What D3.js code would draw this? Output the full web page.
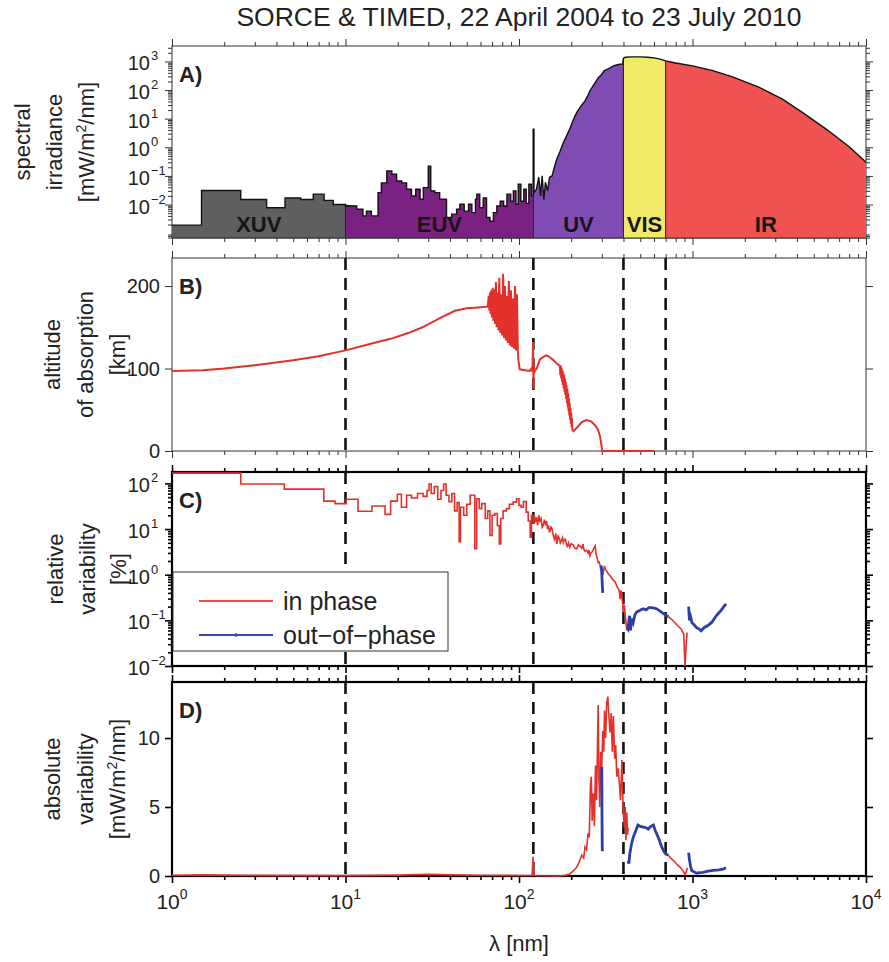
<!DOCTYPE html>
<html>
<head>
<meta charset="utf-8">
<script src="https://cdn.jsdelivr.net/npm/d3@7"></script>
<style>
  body { margin: 0; background: #fff; }
  svg { display: block; font-family: "Liberation Sans", Arial, Helvetica, sans-serif; }
</style>
</head>
<body>
<div id="chart"></div>
<script>
// ---------- wavelength bands ----------
const bandEdges = [1, 10, 121, 400, 700, 10000];
const bandNames = ["XUV", "EUV", "UV", "VIS", "IR"];
const bandColors = ["#5f5f5f", "#7b2181", "#7e4cb3", "#f1ea66", "#ef5250"];
const dashedLambda = [10, 121, 400, 700];

// ---------- A) spectral irradiance [mW/m2/nm] ----------
// binned XUV / EUV part (bin start wavelength, value)
const binLambda = [1.0, 1.48, 2.49, 3.51, 4.48, 5.52, 6.52, 7.53, 8.5, 10.0,
  11.6, 12.6, 13.2, 14.1, 15.4, 16.1, 17.3, 18.5, 19.7, 21.1,
  22.5, 24.0, 25.4, 26.9, 28.1, 30.0, 31.0, 32.7, 34.9, 38.2,
  40.9, 43.7, 45.6, 48.3, 51.2, 53.5, 56.1, 57.1, 59.4, 62.2,
  65.0, 68.0, 71.2, 74.5, 77.9, 81.5, 85.2, 89.6, 92.8, 96.0,
  99.0, 102.5, 106.6, 110.0, 114.0, 118.0, 120.8];
const binIrradiance = [0.0019, 0.031, 0.015, 0.0077, 0.017, 0.015, 0.023, 0.014, 0.010, 0.0089,
  0.0068, 0.004, 0.0059, 0.004, 0.026, 0.057, 0.148, 0.114, 0.066, 0.057,
  0.034, 0.020, 0.034, 0.0152, 0.039, 0.22, 0.030, 0.026, 0.0152, 0.0035,
  0.0046, 0.0068, 0.0102, 0.0059, 0.0102, 0.0052, 0.0152, 0.023, 0.0077, 0.017,
  0.0035, 0.0026, 0.0052, 0.0089, 0.013, 0.0089, 0.023, 0.013, 0.030, 0.0102,
  0.051, 0.013, 0.034, 0.011, 0.051, 0.02, 4.3];
// UV to IR part
const specLambda = [122, 126, 130, 133, 136, 139, 142, 146, 150, 155,
  160, 165, 172, 180, 188, 196, 203, 210, 217, 224,
  232, 240, 248, 256, 265, 275, 285, 300, 310, 320,
  335, 350, 365, 380, 393, 396, 400, 410, 450, 500,
  550, 600, 650, 700, 800, 1000, 1310, 1700, 2410, 3300,
  4400, 6000, 8000, 10000];
const specIrradiance = [0.026, 0.034, 0.09, 0.02, 0.1, 0.015, 0.06, 0.03, 0.09, 0.1,
  0.2, 0.38, 0.7, 1.45, 2.5, 4.3, 7.5, 12.3, 18, 24,
  32, 42, 60, 93, 130, 180, 260, 357, 480, 520,
  600, 700, 750, 800, 820, 800, 1300, 1400, 1440, 1440,
  1400, 1330, 1200, 1050, 880, 700, 480, 290, 126, 48,
  15, 4.0, 1.05, 0.30];

// ---------- B) altitude of absorption [km] ----------
const altLambda = [1, 1.5, 2, 3, 5, 7, 10, 14, 18.2, 23, 27.8, 35, 42.7, 50, 58, 66,
  67, 67.5, 68, 68.6, 69.2, 69.8, 70.5, 71.2, 72, 72.8, 73.6, 74.4, 75.3, 76.2, 77, 78, 79,
  80, 81, 82, 83, 84, 85, 86.2, 87.4, 88.6, 89.8, 91, 92.2, 93.5, 94.8, 96, 97.3, 98.5,
  99.5, 101, 108, 115, 118, 119.5, 120.5, 121.2, 121.8, 122.5, 124, 126, 132, 138, 144, 150, 158, 165,
  172, 173, 174, 175, 176, 177, 178, 179, 180, 181, 182, 183, 184, 185, 186, 187,
  188, 189, 190, 191, 192, 193, 194, 195, 196, 197, 198, 199, 200, 201, 202, 203, 206,
  215, 230, 245, 260, 275, 285, 293, 298, 302, 400, 600];
const altKm = [97, 98, 100, 104, 110, 115, 122, 130, 136, 143, 150, 161, 170, 173, 174, 175,
  188, 170, 192, 166, 195, 162, 198, 158, 196, 154, 205, 150, 192, 146, 210, 143, 190,
  140, 215, 137, 200, 134, 188, 131, 206, 128, 195, 126, 185, 124, 200, 122, 190, 120,
  108, 99, 98, 97, 100, 96, 132, 75, 105, 95, 99, 99, 111, 114, 116, 114, 110, 106,
  103, 92, 104, 88, 101, 84, 98, 80, 95, 76, 92, 72, 88, 68, 84, 63,
  80, 58, 75, 53, 70, 48, 64, 43, 58, 38, 52, 33, 46, 29, 40, 26, 24,
  28, 35, 37.6, 36, 31, 26, 18, 8, 0, 0, 0];

// ---------- C) relative variability [%] ----------
const relBinLambda = [1, 2.49, 4.44, 7.5, 8.7, 10.1, 11.8, 14.2, 16.9, 18.2,
  19.9, 21, 22.5, 24, 26, 28, 29.5, 30.3, 31.2, 32.5,
  34, 35.5, 36.8, 38, 39.5, 41, 42.5, 44, 45.2, 46,
  48, 50, 52.3, 55.6, 57, 59, 61, 63.9, 66, 68,
  70, 72.6, 75, 77, 78.5, 81, 84.5, 88, 92.5, 96.8,
  100, 103, 106, 110, 113, 116, 118];
const relBinValue = [168, 97, 75, 41, 36, 45, 24.5, 32, 21, 41,
  58, 30, 55, 48, 60, 52, 70, 97, 60, 85,
  45, 70, 97, 55, 40, 60, 25, 38, 5.3, 30,
  20, 35, 55, 3.7, 46, 28, 36, 17, 25, 7.2,
  20, 22, 12, 4.7, 17, 25, 28, 35, 39, 46,
  33, 30, 40, 23.5, 15, 6.6, 20];
const relInLambda = [121, 122.5, 124, 126, 128, 130, 132, 134, 136, 138,
  140, 142, 144, 146, 148, 150, 153, 155, 158, 160,
  163, 165, 168, 170, 173, 175, 178, 180, 183, 185,
  188, 190, 193, 196, 200, 205, 210, 215, 220, 225,
  230, 234, 237, 240, 245, 250, 253, 256, 260, 265,
  270, 275, 278, 280, 283, 286, 290, 293, 296, 300,
  303, 305, 308, 311, 315, 320, 327, 335, 342, 350,
  358, 366, 372, 378, 383, 387, 390, 395, 399, 403,
  406, 410, 413, 418, 420, 725, 755, 790, 820, 860,
  890, 905, 920, 931];
const relInValue = [13, 20, 14, 18, 12, 20, 15, 17, 11, 12,
  16, 13, 15, 10, 12, 8.5, 11, 10, 7, 6,
  8, 4.7, 7, 6.5, 5, 5.5, 6.5, 5.1, 6, 6,
  4.5, 4.2, 5, 4.0, 4.8, 4.5, 3.8, 3.7, 4.5, 4.2,
  3.8, 4.7, 3.5, 3.3, 3.4, 3, 3.5, 2.6, 3.0, 3.2,
  3.8, 4.3, 2.8, 2.5, 2.2, 1.86, 1.9, 1.6, 1.3, 1.33,
  1.1, 1.0, 1.3, 1.55, 1.3, 1.2, 1.05, 0.95, 0.85, 0.75,
  0.7, 0.57, 0.5, 0.45, 0.29, 0.45, 0.4, 0.25, 0.15, 0.22,
  0.2, 0.12, 0.098, 0.06, null, 0.12, 0.107, 0.09, 0.076, 0.065,
  0.05, 0.01, 0.03, 0.054];
const relOutLambda = [298, 300, 302, 304, 306, 418, 420, 425, 430, 434,
  440, 445, 455, 465, 475, 490, 505, 520, 540, 560,
  580, 600, 620, 650, 680, 725, 930, 950, 960, 975,
  993, 1020, 1055, 1090, 1120, 1170, 1220, 1290, 1370, 1450,
  1500, 1560];
const relOutValue = [1.6, 1.1, 0.6, 0.4, null, null, 0.07, 0.065, 0.1, 0.126,
  0.06, 0.11, 0.089, 0.13, 0.15, 0.16, 0.17, 0.18, 0.17, 0.19,
  0.19, 0.185, 0.18, 0.16, 0.14, 0.12, null, 0.2, 0.1, 0.12,
  0.089, 0.08, 0.069, 0.065, 0.059, 0.07, 0.076, 0.09, 0.126, 0.16,
  0.19, 0.23];

// ---------- D) absolute variability [mW/m2/nm] ----------
const absInLambda = [1, 1.5, 2.5, 10, 20, 30, 40, 60, 100, 119,
  120.5, 121.8, 130, 171, 185, 196, 205, 215, 222, 230,
  236, 240, 245, 250, 254, 258, 261, 264, 268, 272,
  276, 280, 286, 289, 292, 296, 300, 304, 308, 311,
  316, 320, 325, 330, 335, 340, 345, 350, 356, 361,
  366, 372, 379, 385, 392, 396, 399, 405, 410, 413,
  418, 422, 426, 428, 725, 750, 780, 820, 850, 880,
  905, 920, 935];
const absInValue = [0.05, 0.08, 0.05, 0.03, 0.06, 0.12, 0.08, 0.05, 0.04, 0.04,
  1.4, 0.05, 0.02, 0, 0.05, 0.15, 0.35, 0.63, 1.0, 1.5,
  1.3, 2.1, 1.9, 3.1, 2.8, 6.5, 7.2, 4.0, 6.0, 3.6,
  8.0, 5.5, 12.4, 7.0, 5.0, 9.0, 7.9, 10.5, 9.0, 12.0,
  10.0, 12.5, 13.0, 11.5, 10.4, 11.8, 9.0, 11.6, 8.5, 9.5,
  7.2, 7.8, 6.7, 5.5, 8.4, 6.0, 4.5, 3.5, 5.0, 2.6,
  4.6, 3.0, 3.5, null, 1.5, 1.3, 1.1, 0.8, 0.63, 0.4,
  0.1, 0.3, 0.6];
const absOutLambda = [300, 301, 302, 303, 425, 430, 435, 445, 455, 465,
  475, 485, 500, 520, 540, 555, 575, 595, 610, 635,
  660, 680, 700, 725, 940, 950, 960, 975, 990, 1020,
  1055, 1100, 1150, 1230, 1320, 1420, 1500, 1560];
const absOutValue = [7.9, 4.0, 1.8, null, 1.1, 0.9, 1.6, 2.3, 2.8, 3.1,
  3.4, 3.7, 3.6, 3.55, 3.5, 3.4, 3.6, 3.7, 3.3, 2.8,
  2.2, 1.85, 1.6, 1.5, null, 1.7, 1.2, 0.7, 0.4, 0.3,
  0.2, 0.25, 0.27, 0.35, 0.4, 0.45, 0.5, 0.6];

// ---------- ticks ----------
const xTickExp = [0, 1, 2, 3, 4];
const aTickExp = [-2, -1, 0, 1, 2, 3];
const bTicks = [0, 100, 200];
const cTickExp = [-2, -1, 0, 1, 2];
const dTicks = [0, 5, 10];

// ---------- layout ----------
const width = 889, height = 962;
const plotLeft = 172, plotRight = 866;
const panels = {
  A: { top: 46, bottom: 238, frame: 1, color: "#333" },
  B: { top: 258, bottom: 451, frame: 1, color: "#333" },
  C: { top: 472, bottom: 666, frame: 2.2, color: "#000" },
  D: { top: 682, bottom: 876, frame: 2.2, color: "#000" }
};
const RED = "#e4302a", BLUE = "#2f3ea6";
const LABEL_SIZE = 22;

const svg = d3.select("#chart").append("svg")
  .attr("width", width).attr("height", height);

const x = d3.scaleLog().domain([1, 1e4]).range([plotLeft, plotRight]);
const yA = d3.scaleLog().domain([Math.pow(10, -3.17), Math.pow(10, 3.54)]).range([panels.A.bottom, panels.A.top]);
const yB = d3.scaleLinear().domain([0, 234]).range([panels.B.bottom, panels.B.top]);
const yC = d3.scaleLog().domain([0.01, Math.pow(10, 2.25)]).range([panels.C.bottom, panels.C.top]);
const yD = d3.scaleLinear().domain([0, 14.06]).range([panels.D.bottom, panels.D.top]);

const zip = (a, b) => a.map((v, i) => [v, b[i]]);

function stepPoints(lams, vals, end) {
  const pts = [];
  lams.forEach((l, i) => {
    const e = i < lams.length - 1 ? lams[i + 1] : end;
    pts.push([l, vals[i]], [e, vals[i]]);
  });
  return pts;
}

function logMinors(lo, hi) {
  const out = [];
  for (let e = Math.floor(Math.log10(lo)); e <= Math.ceil(Math.log10(hi)); e++) {
    for (let k = 2; k <= 9; k++) {
      const v = k * Math.pow(10, e);
      if (v >= lo && v <= hi) out.push(v);
    }
  }
  return out;
}

// clip path per panel
Object.entries(panels).forEach(([k, p]) => {
  svg.append("clipPath").attr("id", "clip" + k)
    .append("rect")
    .attr("x", plotLeft).attr("y", p.top - 2)
    .attr("width", plotRight - plotLeft).attr("height", p.bottom - p.top + 4);
});

// ---------- axes / frames ----------
const xMajors = xTickExp.map(e => Math.pow(10, e));
const xMinors = logMinors(1, 1e4);

function styleAxis(g, p) {
  g.select(".domain").remove();
  g.selectAll("line").attr("stroke", p.color).attr("stroke-width", p.frame > 1 ? 1.6 : 1);
}

function drawAxes(key, y, yMajors, yMinors) {
  const p = panels[key];
  const g = svg.append("g").attr("class", "axes-" + key);
  const add = (axis, tr, major) => {
    const a = g.append("g").attr("transform", tr)
      .call(axis.tickSize(major ? 7 : 4).tickSizeOuter(0).tickFormat(""));
    styleAxis(a, p);
  };
  add(d3.axisBottom(x).tickValues(xMajors), `translate(0,${p.bottom})`, true);
  add(d3.axisBottom(x).tickValues(xMinors), `translate(0,${p.bottom})`, false);
  add(d3.axisTop(x).tickValues(xMajors), `translate(0,${p.top})`, true);
  add(d3.axisTop(x).tickValues(xMinors), `translate(0,${p.top})`, false);
  add(d3.axisLeft(y).tickValues(yMajors), `translate(${plotLeft},0)`, true);
  add(d3.axisRight(y).tickValues(yMajors), `translate(${plotRight},0)`, true);
  if (yMinors) {
    add(d3.axisLeft(y).tickValues(yMinors), `translate(${plotLeft},0)`, false);
    add(d3.axisRight(y).tickValues(yMinors), `translate(${plotRight},0)`, false);
  }
  g.append("rect")
    .attr("x", plotLeft).attr("y", p.top)
    .attr("width", plotRight - plotLeft).attr("height", p.bottom - p.top)
    .attr("fill", "none").attr("stroke", p.color).attr("stroke-width", p.frame);
}

function powerLabels(y, exps) {
  exps.forEach(e => {
    const yy = y(Math.pow(10, e)) + 9;
    svg.append("text").attr("x", 150).attr("y", yy)
      .attr("text-anchor", "end").attr("font-size", 20).attr("fill", "#222").text("10");
    svg.append("text").attr("x", 151).attr("y", yy - 10)
      .attr("font-size", 13).attr("fill", "#222")
      .text(e < 0 ? "\u2212" + (-e) : String(e));
  });
}

function numberLabels(y, vals) {
  vals.forEach(v => {
    svg.append("text").attr("x", 160).attr("y", y(v) + 7)
      .attr("text-anchor", "end").attr("font-size", 20).attr("fill", "#222").text(v);
  });
}

function yTitle(lines, xs, key) {
  const p = panels[key];
  const yc = (p.top + p.bottom) / 2;
  lines.forEach((ln, i) => {
    const t = svg.append("text")
      .attr("transform", `translate(${xs[i]},${yc}) rotate(-90)`)
      .attr("y", 8).attr("text-anchor", "middle")
      .attr("font-size", LABEL_SIZE).attr("fill", "#222");
    ln.forEach(part => {
      const s = t.append("tspan").text(part[0]);
      if (part[1] === "sup") s.attr("dy", -8).attr("font-size", 14);
      if (part[1] === "after") s.attr("dy", 8);
    });
  });
}

function panelLetter(key, txt) {
  svg.append("text").attr("x", 179).attr("y", panels[key].top + 36)
    .attr("font-size", 22).attr("font-weight", "bold").attr("fill", "#222").text(txt);
}

function dashedLines(key) {
  const p = panels[key];
  svg.append("g").selectAll("line").data(dashedLambda).join("line")
    .attr("x1", d => x(d)).attr("x2", d => x(d))
    .attr("y1", p.top).attr("y2", p.bottom)
    .attr("stroke", "#111").attr("stroke-width", 2.6)
    .attr("stroke-dasharray", "12,8");
}

// ---------- title ----------
svg.append("text").attr("x", 519).attr("y", 26)
  .attr("text-anchor", "middle").attr("font-size", 26.5).attr("fill", "#222")
  .text("SORCE & TIMED, 22 April 2004 to 23 July 2010");

// ---------- Panel A ----------
const spectrum = stepPoints(binLambda, binIrradiance, specLambda[0])
  .concat(zip(specLambda, specIrradiance));

function valueAt(pts, l) {
  for (let i = 0; i < pts.length - 1; i++) {
    const [l0, v0] = pts[i], [l1, v1] = pts[i + 1];
    if (l >= l0 && l <= l1 && l1 > l0) {
      const t = (Math.log(l) - Math.log(l0)) / (Math.log(l1) - Math.log(l0));
      return Math.exp(Math.log(v0) + t * (Math.log(v1) - Math.log(v0)));
    }
  }
  return pts[pts.length - 1][1];
}

const aMajors = aTickExp.map(e => Math.pow(10, e));
drawAxes("A", yA, aMajors, logMinors(yA.domain()[0], yA.domain()[1]));
const gA = svg.append("g").attr("clip-path", "url(#clipA)");
const areaA = d3.area().x(d => x(d[0])).y0(panels.A.bottom).y1(d => yA(d[1]));
bandNames.forEach((name, i) => {
  const e0 = bandEdges[i], e1 = bandEdges[i + 1];
  const pts = [[e0, valueAt(spectrum, e0)]]
    .concat(spectrum.filter(d => d[0] > e0 && d[0] < e1))
    .concat([[e1, valueAt(spectrum, e1)]]);
  gA.append("path").datum(pts).attr("d", areaA).attr("fill", bandColors[i]);
});
gA.selectAll("line.edge").data(bandEdges.slice(1, -1)).join("line")
  .attr("class", "edge")
  .attr("x1", d => x(d)).attr("x2", d => x(d))
  .attr("y1", panels.A.bottom).attr("y2", d => yA(valueAt(spectrum, d)))
  .attr("stroke", "#222").attr("stroke-width", 1);
gA.append("path").datum(spectrum)
  .attr("d", d3.line().x(d => x(d[0])).y(d => yA(d[1])))
  .attr("fill", "none").attr("stroke", "#111").attr("stroke-width", 1.4);
svg.append("line").attr("x1", plotLeft).attr("x2", plotRight)
  .attr("y1", panels.A.bottom).attr("y2", panels.A.bottom)
  .attr("stroke", "#333").attr("stroke-width", 1);
bandNames.forEach((name, i) => {
  const mid = Math.sqrt(bandEdges[i] * bandEdges[i + 1]);
  svg.append("text").attr("x", x(mid)).attr("y", panels.A.bottom - 6)
    .attr("text-anchor", "middle").attr("font-size", 22).attr("font-weight", "bold")
    .attr("fill", "#151515").text(name);
});
powerLabels(yA, aTickExp);
yTitle([[["spectral"]], [["irradiance"]], [["[mW/m"], ["2", "sup"], ["/nm]", "after"]]], [22, 54, 86], "A");
panelLetter("A", "A)");

// ---------- Panel B ----------
drawAxes("B", yB, bTicks, null);
dashedLines("B");
svg.append("g").attr("clip-path", "url(#clipB)")
  .append("path").datum(zip(altLambda, altKm))
  .attr("d", d3.line().x(d => x(d[0])).y(d => yB(d[1])))
  .attr("fill", "none").attr("stroke", RED).attr("stroke-width", 2);
numberLabels(yB, bTicks);
yTitle([[["altitude"]], [["of absorption"]], [["[km]"]]], [52, 85, 117], "B");
panelLetter("B", "B)");

// ---------- Panel C ----------
drawAxes("C", yC, cTickExp.map(e => Math.pow(10, e)), logMinors(0.01, yC.domain()[1]));
dashedLines("C");
const gC = svg.append("g").attr("clip-path", "url(#clipC)");
const lineC = d3.line().defined(d => d[1] != null).x(d => x(d[0])).y(d => yC(d[1]));
gC.append("path")
  .datum(stepPoints(relBinLambda, relBinValue, relInLambda[0]).concat(zip(relInLambda, relInValue)))
  .attr("d", lineC).attr("fill", "none").attr("stroke", RED).attr("stroke-width", 1.6);
gC.append("path").datum(zip(relOutLambda, relOutValue))
  .attr("d", lineC).attr("fill", "none").attr("stroke", BLUE).attr("stroke-width", 2.8);
powerLabels(yC, cTickExp);
yTitle([[["relative"]], [["variability"]], [["[%]"]]], [55, 87, 118], "C");
panelLetter("C", "C)");

// legend
const lg = svg.append("g");
lg.append("rect").attr("x", 173).attr("y", 572).attr("width", 275).attr("height", 79)
  .attr("fill", "#fff").attr("stroke", "#333").attr("stroke-width", 1);
[["in phase", "#ef4b45", 601], ["out\u2212of\u2212phase", "#3a48ad", 635]].forEach(([label, col, yy]) => {
  lg.append("line").attr("x1", 199).attr("x2", 273).attr("y1", yy).attr("y2", yy)
    .attr("stroke", col).attr("stroke-width", 2);
  lg.append("text").attr("x", 283).attr("y", yy + 9).attr("font-size", 25)
    .attr("fill", "#222").text(label);
});
lg.append("circle").attr("cx", 236).attr("cy", 635).attr("r", 1.8).attr("fill", "#3a48ad");

// ---------- Panel D ----------
drawAxes("D", yD, dTicks, null);
dashedLines("D");
const gD = svg.append("g").attr("clip-path", "url(#clipD)");
const lineD = d3.line().defined(d => d[1] != null).x(d => x(d[0])).y(d => yD(d[1]));
gD.append("path").datum(zip(absInLambda, absInValue))
  .attr("d", lineD).attr("fill", "none").attr("stroke", RED).attr("stroke-width", 1.6);
gD.append("path").datum(zip(absOutLambda, absOutValue))
  .attr("d", lineD).attr("fill", "none").attr("stroke", BLUE).attr("stroke-width", 2.8);
numberLabels(yD, dTicks);
yTitle([[["absolute"]], [["variability"]], [["[mW/m"], ["2", "sup"], ["/nm]", "after"]]], [52, 85, 117], "D");
panelLetter("D", "D)");

// x tick labels
xTickExp.forEach(e => {
  const t = svg.append("text").attr("x", x(Math.pow(10, e))).attr("y", 909)
    .attr("text-anchor", "middle").attr("font-size", 21).attr("fill", "#222");
  t.append("tspan").text("10");
  t.append("tspan").attr("dy", -10).attr("font-size", 14).text(e);
});
svg.append("text").attr("x", 519).attr("y", 951)
  .attr("text-anchor", "middle").attr("font-size", 22).attr("fill", "#222")
  .text("\u03bb [nm]");
</script>
</body>
</html>
